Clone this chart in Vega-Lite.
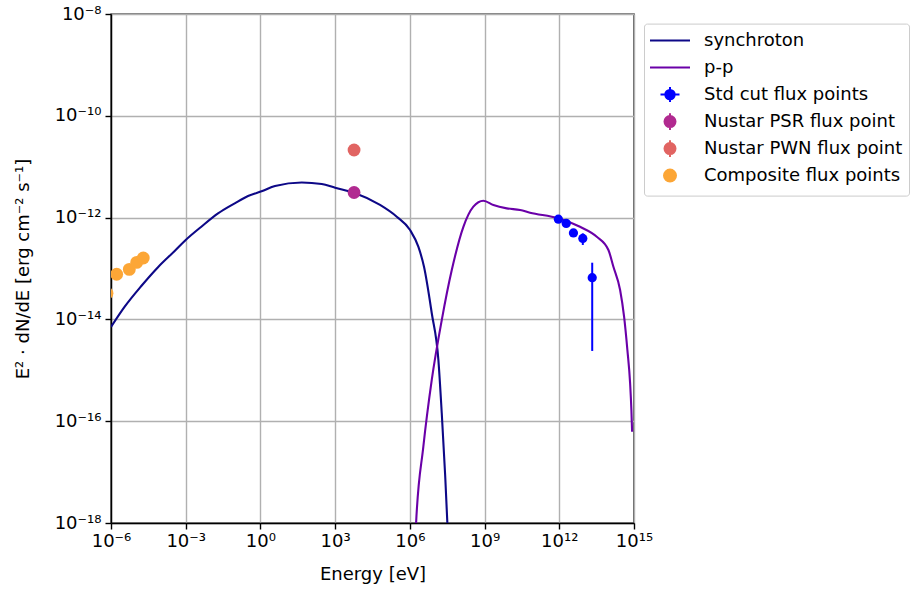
{
  "$schema": "https://vega.github.io/schema/vega-lite/v6.json",
  "width": 523,
  "height": 509,
  "autosize": {"type": "none"},
  "padding": {"left": 111, "top": 14, "right": 279, "bottom": 67},
  "config": {
    "font": "DejaVu Sans",
    "view": {"stroke": "black", "strokeWidth": 1.4},
    "legend": {"labelFontSize": 18, "labelLimit": 0}
  },
  "data": {
    "values": [
      {"s": "synchroton", "E": 1e-6, "F": 7.1e-15},
      {"s": "synchroton", "E": 3.55e-6, "F": 1.78e-14},
      {"s": "synchroton", "E": 1.65e-5, "F": 4.53e-14},
      {"s": "synchroton", "E": 7.72e-5, "F": 1.06e-13},
      {"s": "synchroton", "E": 3.61e-4, "F": 2.21e-13},
      {"s": "synchroton", "E": 1e-3, "F": 3.63e-13},
      {"s": "synchroton", "E": 4.24e-3, "F": 6.62e-13},
      {"s": "synchroton", "E": 0.0198, "F": 1.21e-12},
      {"s": "synchroton", "E": 0.0929, "F": 1.91e-12},
      {"s": "synchroton", "E": 0.318, "F": 2.66e-12},
      {"s": "synchroton", "E": 1.19, "F": 3.33e-12},
      {"s": "synchroton", "E": 3.86, "F": 4.18e-12},
      {"s": "synchroton", "E": 45.6, "F": 4.9e-12},
      {"s": "synchroton", "E": 290, "F": 4.57e-12},
      {"s": "synchroton", "E": 1000, "F": 3.86e-12},
      {"s": "synchroton", "E": 5750, "F": 3.08e-12},
      {"s": "synchroton", "E": 63500, "F": 1.77e-12},
      {"s": "synchroton", "E": 298000, "F": 1.04e-12},
      {"s": "synchroton", "E": 1.02e6, "F": 5.7e-13},
      {"s": "synchroton", "E": 2.19e6, "F": 2.68e-13},
      {"s": "synchroton", "E": 3.7e6, "F": 1.08e-13},
      {"s": "synchroton", "E": 7.58e6, "F": 1.32e-14},
      {"s": "synchroton", "E": 1.4e7, "F": 1.59e-15},
      {"s": "synchroton", "E": 1.91e7, "F": 1.43e-16},
      {"s": "synchroton", "E": 2.59e7, "F": 9.5e-18},
      {"s": "synchroton", "E": 3.21e7, "F": 9.8e-19},
      {"s": "synchroton", "E": 3.75e7, "F": 1.2e-19},
      {"s": "p-p", "E": 1.48e6, "F": 1.2e-19},
      {"s": "p-p", "E": 1.78e6, "F": 9.9e-19},
      {"s": "p-p", "E": 3.48e6, "F": 3.16e-17},
      {"s": "p-p", "E": 7.58e6, "F": 6.5e-16},
      {"s": "p-p", "E": 1.91e7, "F": 9.7e-15},
      {"s": "p-p", "E": 4.82e7, "F": 9.3e-14},
      {"s": "p-p", "E": 1.41e8, "F": 6.6e-13},
      {"s": "p-p", "E": 3.55e8, "F": 1.64e-12},
      {"s": "p-p", "E": 8.95e8, "F": 2.15e-12},
      {"s": "p-p", "E": 2.26e9, "F": 1.77e-12},
      {"s": "p-p", "E": 7.8e9, "F": 1.52e-12},
      {"s": "p-p", "E": 2.67e10, "F": 1.41e-12},
      {"s": "p-p", "E": 6.7e10, "F": 1.25e-12},
      {"s": "p-p", "E": 9.2e11, "F": 9.7e-13},
      {"s": "p-p", "E": 6.8e12, "F": 6.6e-13},
      {"s": "p-p", "E": 3.2e13, "F": 4.2e-13},
      {"s": "p-p", "E": 9.4e13, "F": 2.31e-13},
      {"s": "p-p", "E": 1.49e14, "F": 1.08e-13},
      {"s": "p-p", "E": 2.77e14, "F": 3.78e-14},
      {"s": "p-p", "E": 4.0e14, "F": 1.13e-14},
      {"s": "p-p", "E": 5.43e14, "F": 2.5e-15},
      {"s": "p-p", "E": 6.97e14, "F": 5.6e-16},
      {"s": "p-p", "E": 7.86e14, "F": 1.66e-16},
      {"s": "p-p", "E": 8.39e14, "F": 6.2e-17},
      {"s": "Std cut flux points", "E": 9.2e11, "F": 9.3e-13, "lo": 8.8e-13, "hi": 9.8e-13},
      {"s": "Std cut flux points", "E": 1.9e12, "F": 7.7e-13, "lo": 7.3e-13, "hi": 8.1e-13},
      {"s": "Std cut flux points", "E": 3.7e12, "F": 5.0e-13, "lo": 4.6e-13, "hi": 5.4e-13},
      {"s": "Std cut flux points", "E": 8.8e12, "F": 3.9e-13, "lo": 2.9e-13, "hi": 4.9e-13},
      {"s": "Std cut flux points", "E": 2.1e13, "F": 6.6e-14, "lo": 2.4e-15, "hi": 1.3e-13},
      {"s": "Nustar PSR flux point", "E": 5750, "F": 3.11e-12},
      {"s": "Nustar PWN flux point", "E": 5750, "F": 2.13e-11},
      {"s": "Composite flux points", "E": 6.9e-7, "F": 3.26e-14},
      {"s": "Composite flux points", "E": 1.69e-6, "F": 7.7e-14},
      {"s": "Composite flux points", "E": 5.43e-6, "F": 9.6e-14},
      {"s": "Composite flux points", "E": 1.08e-5, "F": 1.32e-13},
      {"s": "Composite flux points", "E": 1.98e-5, "F": 1.61e-13}
    ]
  },
  "encoding": {
    "x": {
      "field": "E",
      "type": "quantitative",
      "scale": {"type": "log", "domain": [1e-6, 1e15], "nice": false},
      "axis": {
        "title": "Energy [eV]",
        "values": [1e-6, 1e-3, 1, 1000, 1e6, 1e9, 1e12, 1e15],
        "labelExpr": "['10⁻⁶','10⁻³','10⁰','10³','10⁶','10⁹','10¹²','10¹⁵'][round(log(datum.value)/LN10/3)+2]",
        "grid": true, "gridColor": "#b0b0b0", "gridWidth": 1.4,
        "domainColor": "black", "domainWidth": 1.4,
        "tickColor": "black", "tickWidth": 1.4, "tickSize": 6,
        "labelFontSize": 18, "labelColor": "black", "labelPadding": 3,
        "labelFlush": false, "labelOverlap": false,
        "titleFontSize": 18, "titleFontWeight": "normal", "titleColor": "black", "titlePadding": 15
      }
    },
    "y": {
      "field": "F",
      "type": "quantitative",
      "scale": {"type": "log", "domain": [1e-18, 1e-8], "nice": false},
      "axis": {
        "title": "E² · dN/dE [erg cm⁻² s⁻¹]",
        "values": [1e-18, 1e-16, 1e-14, 1e-12, 1e-10, 1e-8],
        "labelExpr": "['10⁻¹⁸','10⁻¹⁶','10⁻¹⁴','10⁻¹²','10⁻¹⁰','10⁻⁸'][round((log(datum.value)/LN10+18)/2)]",
        "grid": true, "gridColor": "#b0b0b0", "gridWidth": 1.4,
        "domainColor": "black", "domainWidth": 1.4,
        "tickColor": "black", "tickWidth": 1.4, "tickSize": 6,
        "labelFontSize": 18, "labelColor": "black", "labelPadding": 4,
        "labelFlush": false, "labelOverlap": false,
        "titleFontSize": 18, "titleFontWeight": "normal", "titleColor": "black", "titlePadding": 22
      }
    },
    "color": {
      "field": "s",
      "type": "nominal",
      "scale": {
        "domain": ["synchroton", "p-p", "Std cut flux points", "Nustar PSR flux point", "Nustar PWN flux point", "Composite flux points"],
        "range": ["#0d0887", "#6a00a8", "#0000ff", "#b12a90", "#e16462", "#fca636"]
      },
      "legend": {
        "title": null,
        "orient": "none",
        "legendX": 533,
        "legendY": 9.6,
        "padding": 6,
        "strokeColor": "#cccccc",
        "fillColor": "white",
        "cornerRadius": 3,
        "labelFontSize": 18,
        "labelLimit": 0,
        "labelColor": "black",
        "labelOffset": 23,
        "symbolOffset": 9,
        "gridAlign": "all",
        "rowPadding": 0,
        "symbolSize": 400,
        "symbolStrokeWidth": 2,
        "encode": {
          "labels": {"update": {"fontSize": {"value": 18}}},
          "symbols": {
            "update": {
              "shape": {"signal": "datum.value === 'synchroton' || datum.value === 'p-p' ? 'M0,-0.84M0,0.97M-2,0H2' : datum.value === 'Std cut flux points' ? 'M0,-0.84M0,0.97M-0.47,0A0.47,0.47,0,1,1,0.47,0A0.47,0.47,0,1,1,-0.47,0Z M-0.95,0H0.95 M0,-0.75V0.75' : datum.value === 'Composite flux points' ? 'M0,-0.84M0,0.97M-0.6,0A0.6,0.6,0,1,1,0.6,0A0.6,0.6,0,1,1,-0.6,0Z' : 'M0,-0.84M0,0.97M-0.55,0A0.55,0.55,0,1,1,0.55,0A0.55,0.55,0,1,1,-0.55,0Z M0,-0.84V0.84'"},
              "fill": {"scale": "color", "field": "value"},
              "stroke": {"scale": "color", "field": "value"},
              "size": {"value": 400},
              "strokeWidth": {"value": 2},
              "opacity": {"value": 1}
            }
          }
        }
      }
    }
  },
  "layer": [
    {
      "transform": [{"filter": "datum.s === 'synchroton' || datum.s === 'p-p'"}],
      "mark": {"type": "line", "strokeWidth": 2.1, "clip": true, "interpolate": "monotone"}
    },
    {
      "transform": [{"filter": "datum.s === 'Std cut flux points'"}],
      "mark": {"type": "rule", "strokeWidth": 2, "clip": true},
      "encoding": {
        "y": {
          "field": "lo",
          "type": "quantitative",
          "scale": {"type": "log", "domain": [1e-18, 1e-8], "nice": false},
          "axis": {
            "title": "E² · dN/dE [erg cm⁻² s⁻¹]",
            "values": [1e-18, 1e-16, 1e-14, 1e-12, 1e-10, 1e-8],
            "labelExpr": "['10⁻¹⁸','10⁻¹⁶','10⁻¹⁴','10⁻¹²','10⁻¹⁰','10⁻⁸'][round((log(datum.value)/LN10+18)/2)]",
            "grid": true, "gridColor": "#b0b0b0", "gridWidth": 1.4,
            "domainColor": "black", "domainWidth": 1.4,
            "tickColor": "black", "tickWidth": 1.4, "tickSize": 6,
            "labelFontSize": 18, "labelColor": "black", "labelPadding": 4,
            "labelFlush": false, "labelOverlap": false,
            "titleFontSize": 18, "titleFontWeight": "normal", "titleColor": "black", "titlePadding": 22
          }
        },
        "y2": {"field": "hi"}
      }
    },
    {
      "transform": [{"filter": "datum.s === 'Std cut flux points'"}],
      "mark": {"type": "point", "filled": true, "size": 85, "opacity": 1, "clip": true}
    },
    {
      "transform": [{"filter": "datum.s !== 'Std cut flux points' && datum.s !== 'synchroton' && datum.s !== 'p-p'"}],
      "mark": {"type": "point", "filled": true, "size": 165, "opacity": 1, "clip": true}
    }
  ]
}
